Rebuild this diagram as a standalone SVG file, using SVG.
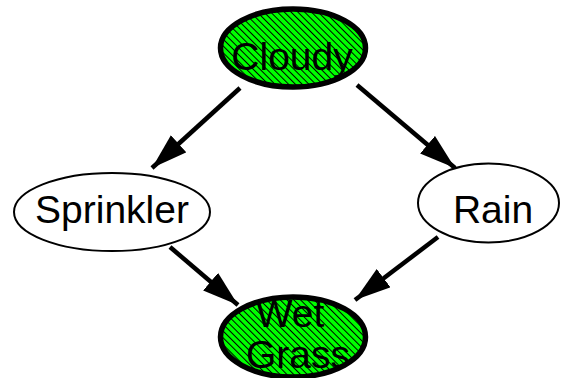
<svg xmlns="http://www.w3.org/2000/svg" width="561" height="378" viewBox="0 0 561 378">
  <defs>
    <pattern id="hatch" patternUnits="userSpaceOnUse" width="4.8" height="4.8" patternTransform="rotate(-45)">
      <rect width="4.8" height="4.8" fill="#00ff00"/>
      <line x1="0.5" y1="0" x2="0.5" y2="4.8" stroke="#000" stroke-width="1"/>
    </pattern>
    <marker id="arrow" markerUnits="userSpaceOnUse" markerWidth="38" markerHeight="24" refX="36" refY="11.5" orient="auto">
      <path d="M0,0 L36,11.5 L0,23 z" fill="#000"/>
    </marker>
    <style>
      .obs { fill: url(#hatch); stroke: #000; stroke-width: 5.5; }
      .hid { fill: #fff; stroke: #000; stroke-width: 2; }
      .lbl { font-family: "Liberation Sans", Arial, sans-serif; font-size: 39px; fill: #000; text-anchor: middle; }
      .edge { stroke: #000; stroke-width: 4.5; fill: none; marker-end: url(#arrow); }
    </style>
  </defs>

  <g id="connectors">
    <line class="edge" x1="240" y1="88" x2="152" y2="168"/>
    <line class="edge" x1="357" y1="85" x2="455" y2="168"/>
    <line class="edge" x1="170" y1="247" x2="238" y2="305"/>
    <line class="edge" x1="438" y1="237" x2="355" y2="300"/>
  </g>

  <g id="cloudy">
    <ellipse class="obs" cx="293" cy="48" rx="72.5" ry="39"/>
    <text class="lbl" x="292" y="70">Cloudy</text>
  </g>

  <g id="sprinkler">
    <ellipse class="hid" cx="112" cy="212" rx="98" ry="39"/>
    <text class="lbl" x="112" y="223">Sprinkler</text>
  </g>

  <g id="rain">
    <ellipse class="hid" cx="488.5" cy="203" rx="70.5" ry="39.5"/>
    <text class="lbl" x="493" y="223">Rain</text>
  </g>

  <g id="wetgrass">
    <ellipse class="obs" cx="293" cy="337" rx="72.5" ry="40"/>
    <text class="lbl" x="290" y="327">Wet</text>
    <text class="lbl" x="298" y="368">Grass</text>
  </g>
</svg>
